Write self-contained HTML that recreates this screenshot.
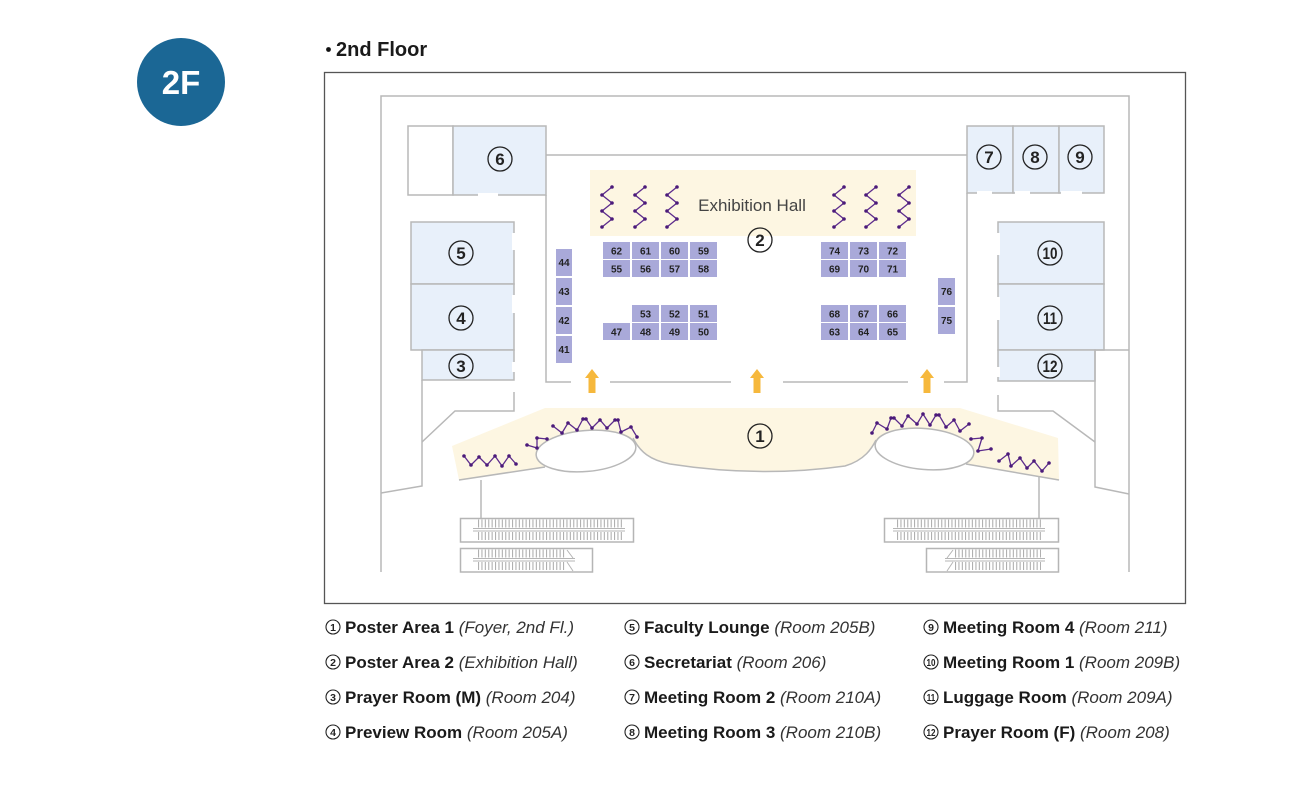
<!DOCTYPE html>
<html><head><meta charset="utf-8"><style>
html,body{margin:0;padding:0;background:#fff;}
svg{display:block;}
text{font-family:"Liberation Sans",sans-serif;}
</style></head><body>
<svg width="1300" height="789" viewBox="0 0 1300 789" xmlns="http://www.w3.org/2000/svg">
<!-- 2F badge -->
<circle cx="181" cy="82" r="44" fill="#1b6795"/>
<text x="181" y="94" text-anchor="middle" font-size="33" fill="#fff" font-weight="bold">2F</text>
<!-- title -->
<circle cx="328.5" cy="49.5" r="2.4" fill="#111"/>
<text x="336" y="56" font-size="20" font-weight="bold" fill="#1a1a1a">2nd Floor</text>
<!-- frame -->
<rect x="324.5" y="72.5" width="861" height="531" fill="none" stroke="#555" stroke-width="1.3"/>

<!-- exhibition hall cream -->
<rect x="590" y="170" width="326" height="66" fill="#fdf6e2"/>
<text x="752" y="211" text-anchor="middle" font-size="17" fill="#444">Exhibition Hall</text>

<!-- rooms -->
<g stroke="#b8b8b8" stroke-width="1.5">
  <rect x="408" y="126" width="45" height="69" fill="#fff"/>
  <rect x="453" y="126" width="93" height="69" fill="#e8f0fa"/>
  <rect x="411" y="222" width="103" height="62" fill="#e8f0fa"/>
  <rect x="411" y="284" width="103" height="66" fill="#e8f0fa"/>
  <rect x="422" y="350" width="92" height="30" fill="#e8f0fa"/>
  <rect x="967" y="126" width="46" height="67" fill="#e8f0fa"/>
  <rect x="1013" y="126" width="46" height="67" fill="#e8f0fa"/>
  <rect x="1059" y="126" width="45" height="67" fill="#e8f0fa"/>
  <rect x="998" y="222" width="106" height="62" fill="#e8f0fa"/>
  <rect x="998" y="284" width="106" height="66" fill="#e8f0fa"/>
  <rect x="998" y="350" width="97" height="31" fill="#e8f0fa"/>
</g>
<!-- door gaps -->
<g fill="#fff">
  <rect x="478" y="193" width="20" height="4"/>
  <rect x="512" y="233" width="4" height="17"/>
  <rect x="512" y="295" width="4" height="18"/>
  <rect x="512" y="362" width="4" height="10"/>
  <rect x="996" y="233" width="4" height="22"/>
  <rect x="996" y="297" width="4" height="23"/>
  <rect x="996" y="367" width="4" height="10"/>
  <rect x="977" y="191" width="15" height="4"/>
  <rect x="1015" y="191" width="15" height="4"/>
  <rect x="1061" y="191" width="21" height="4"/>
</g>

<!-- walls -->
<g stroke="#b8b8b8" stroke-width="1.5" fill="none">
  <path d="M381,572 V96 H1129 V572"/>
  <path d="M381,493 L422,486 V380"/>
  <path d="M422,442 L455,411 H514 V392"/>
  <path d="M1129,494 L1095,487 V350 H1129"/>
  <path d="M998,395 V411 H1053 L1095,442"/>
  <path d="M546,155 H967"/>
  <path d="M546,195 V382 H571"/>
  <path d="M610,382 H731"/>
  <path d="M783,382 H908"/>
  <path d="M944,382 H967 V193"/>
</g>

<!-- booths -->
<g fill="#a9a9d9">
  <rect x="603" y="242" width="27" height="17"/><rect x="632" y="242" width="27" height="17"/><rect x="661" y="242" width="27" height="17"/><rect x="690" y="242" width="27" height="17"/>
  <rect x="603" y="260" width="27" height="17"/><rect x="632" y="260" width="27" height="17"/><rect x="661" y="260" width="27" height="17"/><rect x="690" y="260" width="27" height="17"/>
  <rect x="632" y="305" width="27" height="17"/><rect x="661" y="305" width="27" height="17"/><rect x="690" y="305" width="27" height="17"/>
  <rect x="603" y="323" width="27" height="17"/><rect x="632" y="323" width="27" height="17"/><rect x="661" y="323" width="27" height="17"/><rect x="690" y="323" width="27" height="17"/>
  <rect x="821" y="242" width="27" height="17"/><rect x="850" y="242" width="27" height="17"/><rect x="879" y="242" width="27" height="17"/>
  <rect x="821" y="260" width="27" height="17"/><rect x="850" y="260" width="27" height="17"/><rect x="879" y="260" width="27" height="17"/>
  <rect x="821" y="305" width="27" height="17"/><rect x="850" y="305" width="27" height="17"/><rect x="879" y="305" width="27" height="17"/>
  <rect x="821" y="323" width="27" height="17"/><rect x="850" y="323" width="27" height="17"/><rect x="879" y="323" width="27" height="17"/>
  <rect x="556" y="249" width="16" height="27"/><rect x="556" y="278" width="16" height="27"/><rect x="556" y="307" width="16" height="27"/><rect x="556" y="336" width="16" height="27"/>
  <rect x="938" y="278" width="17" height="27"/><rect x="938" y="307" width="17" height="27"/>
</g>
<g font-size="10" font-weight="bold" fill="#222" text-anchor="middle">
  <text x="616.5" y="254.5">62</text><text x="645.5" y="254.5">61</text><text x="674.5" y="254.5">60</text><text x="703.5" y="254.5">59</text>
  <text x="616.5" y="272.5">55</text><text x="645.5" y="272.5">56</text><text x="674.5" y="272.5">57</text><text x="703.5" y="272.5">58</text>
  <text x="645.5" y="317.5">53</text><text x="674.5" y="317.5">52</text><text x="703.5" y="317.5">51</text>
  <text x="616.5" y="335.5">47</text><text x="645.5" y="335.5">48</text><text x="674.5" y="335.5">49</text><text x="703.5" y="335.5">50</text>
  <text x="834.5" y="254.5">74</text><text x="863.5" y="254.5">73</text><text x="892.5" y="254.5">72</text>
  <text x="834.5" y="272.5">69</text><text x="863.5" y="272.5">70</text><text x="892.5" y="272.5">71</text>
  <text x="834.5" y="317.5">68</text><text x="863.5" y="317.5">67</text><text x="892.5" y="317.5">66</text>
  <text x="834.5" y="335.5">63</text><text x="863.5" y="335.5">64</text><text x="892.5" y="335.5">65</text>
  <text x="564" y="266">44</text><text x="564" y="295">43</text><text x="564" y="324">42</text><text x="564" y="353">41</text>
  <text x="946.5" y="295">76</text><text x="946.5" y="324">75</text>
</g>

<!-- exhibition zigzags -->
<g stroke="#5c2b8c" stroke-width="1.3" fill="none">
  <polyline points="612,187 602,195 612,203 602,211 612,219 602,227"/>
  <polyline points="645,187 635,195 645,203 635,211 645,219 635,227"/>
  <polyline points="677,187 667,195 677,203 667,211 677,219 667,227"/>
  <polyline points="844,187 834,195 844,203 834,211 844,219 834,227"/>
  <polyline points="876,187 866,195 876,203 866,211 876,219 866,227"/>
  <polyline points="909,187 899,195 909,203 899,211 909,219 899,227"/>
</g>
<g fill="#4b1a7a">
  <circle cx="612" cy="187" r="1.8"/><circle cx="602" cy="195" r="1.8"/><circle cx="612" cy="203" r="1.8"/><circle cx="602" cy="211" r="1.8"/><circle cx="612" cy="219" r="1.8"/><circle cx="602" cy="227" r="1.8"/>
  <circle cx="645" cy="187" r="1.8"/><circle cx="635" cy="195" r="1.8"/><circle cx="645" cy="203" r="1.8"/><circle cx="635" cy="211" r="1.8"/><circle cx="645" cy="219" r="1.8"/><circle cx="635" cy="227" r="1.8"/>
  <circle cx="677" cy="187" r="1.8"/><circle cx="667" cy="195" r="1.8"/><circle cx="677" cy="203" r="1.8"/><circle cx="667" cy="211" r="1.8"/><circle cx="677" cy="219" r="1.8"/><circle cx="667" cy="227" r="1.8"/>
  <circle cx="844" cy="187" r="1.8"/><circle cx="834" cy="195" r="1.8"/><circle cx="844" cy="203" r="1.8"/><circle cx="834" cy="211" r="1.8"/><circle cx="844" cy="219" r="1.8"/><circle cx="834" cy="227" r="1.8"/>
  <circle cx="876" cy="187" r="1.8"/><circle cx="866" cy="195" r="1.8"/><circle cx="876" cy="203" r="1.8"/><circle cx="866" cy="211" r="1.8"/><circle cx="876" cy="219" r="1.8"/><circle cx="866" cy="227" r="1.8"/>
  <circle cx="909" cy="187" r="1.8"/><circle cx="899" cy="195" r="1.8"/><circle cx="909" cy="203" r="1.8"/><circle cx="899" cy="211" r="1.8"/><circle cx="909" cy="219" r="1.8"/><circle cx="899" cy="227" r="1.8"/>
</g>

<!-- arrows -->
<g fill="#f6b83c">
  <path d="M592,369 L599,378 L595.5,378 L595.5,393 L588.5,393 L588.5,378 L585,378 Z"/>
  <path d="M757,369 L764,378 L760.5,378 L760.5,393 L753.5,393 L753.5,378 L750,378 Z"/>
  <path d="M927,369 L934,378 L930.5,378 L930.5,393 L923.5,393 L923.5,378 L920,378 Z"/>
</g>

<!-- foyer -->
<path d="M452,446 L545,408 L960,408 L1058,438 L1059,480 L966,464 L924,449 L876,440 C872,448 865,460 845,466 Q760,478 670,464 C650,460 640,452 633,438 L586,451 L545,467 L459,480 Z" fill="#fdf6e2"/>
<g stroke="#b8b8b8" stroke-width="1.5" fill="none">
  <path d="M459,480 L545,467"/>
  <path d="M966,464 L1059,480"/>
  <path d="M633,438 C640,452 650,460 670,464 Q760,478 845,466 C865,460 872,448 876,440"/>
  <ellipse cx="586" cy="451" rx="50" ry="20.5" fill="#fff" transform="rotate(-5 586 451)"/>
  <ellipse cx="924.5" cy="449" rx="49.5" ry="20.5" fill="#fff" transform="rotate(5 924.5 449)"/>
  <path d="M481,480 V518"/>
  <path d="M1039,477 V518"/>
</g>

<!-- foyer zigzags -->
<g stroke="#5c2b8c" stroke-width="1.3" fill="none">
  <polyline points="464,456 471,465 479,457 487,465 495,456 502,466 509,456 516,464"/>
  <polyline points="527,445 537,448 537,438 547,439"/>
  <polyline points="553,426 562,433 568,423 577,430 583,419 586,419 592,428 600,420 607,428 615,420 618,420 621,432 631,427 637,437"/>
  <polyline points="872,433 877,423 887,429 891,418 894,418 902,426 908,416 917,424 923,414 930,425 936,415 939,415 946,427 954,420 960,431 969,424"/>
  <polyline points="971,439 982,438 978,451 991,449"/>
  <polyline points="999,461 1008,454 1011,466 1020,458 1027,468 1034,461 1042,471 1049,463"/>
</g>
<g fill="#4b1a7a">
  <circle cx="464" cy="456" r="1.8"/><circle cx="471" cy="465" r="1.8"/><circle cx="479" cy="457" r="1.8"/><circle cx="487" cy="465" r="1.8"/><circle cx="495" cy="456" r="1.8"/><circle cx="502" cy="466" r="1.8"/><circle cx="509" cy="456" r="1.8"/><circle cx="516" cy="464" r="1.8"/>
  <circle cx="527" cy="445" r="1.8"/><circle cx="537" cy="448" r="1.8"/><circle cx="537" cy="438" r="1.8"/><circle cx="547" cy="439" r="1.8"/>
  <circle cx="553" cy="426" r="1.8"/><circle cx="562" cy="433" r="1.8"/><circle cx="568" cy="423" r="1.8"/><circle cx="577" cy="430" r="1.8"/><circle cx="583" cy="419" r="1.8"/><circle cx="586" cy="419" r="1.8"/><circle cx="592" cy="428" r="1.8"/><circle cx="600" cy="420" r="1.8"/><circle cx="607" cy="428" r="1.8"/><circle cx="615" cy="420" r="1.8"/><circle cx="618" cy="420" r="1.8"/><circle cx="621" cy="432" r="1.8"/><circle cx="631" cy="427" r="1.8"/><circle cx="637" cy="437" r="1.8"/>
  <circle cx="872" cy="433" r="1.8"/><circle cx="877" cy="423" r="1.8"/><circle cx="887" cy="429" r="1.8"/><circle cx="891" cy="418" r="1.8"/><circle cx="894" cy="418" r="1.8"/><circle cx="902" cy="426" r="1.8"/><circle cx="908" cy="416" r="1.8"/><circle cx="917" cy="424" r="1.8"/><circle cx="923" cy="414" r="1.8"/><circle cx="930" cy="425" r="1.8"/><circle cx="936" cy="415" r="1.8"/><circle cx="939" cy="415" r="1.8"/><circle cx="946" cy="427" r="1.8"/><circle cx="954" cy="420" r="1.8"/><circle cx="960" cy="431" r="1.8"/><circle cx="969" cy="424" r="1.8"/>
  <circle cx="971" cy="439" r="1.8"/><circle cx="982" cy="438" r="1.8"/><circle cx="978" cy="451" r="1.8"/><circle cx="991" cy="449" r="1.8"/>
  <circle cx="999" cy="461" r="1.8"/><circle cx="1008" cy="454" r="1.8"/><circle cx="1011" cy="466" r="1.8"/><circle cx="1020" cy="458" r="1.8"/><circle cx="1027" cy="468" r="1.8"/><circle cx="1034" cy="461" r="1.8"/><circle cx="1042" cy="471" r="1.8"/><circle cx="1049" cy="463" r="1.8"/>
</g>

<!-- escalators -->
<g stroke="#b5b5b5" fill="none">
  <rect x="460.5" y="518.5" width="173" height="23.5" stroke-width="1.5"/>
  <rect x="460.5" y="548.5" width="132" height="23.5" stroke-width="1.5"/>
  <rect x="884.5" y="518.5" width="174" height="23.5" stroke-width="1.5"/>
  <rect x="926.5" y="548.5" width="132" height="23.5" stroke-width="1.5"/>
  <g stroke-width="8" stroke-dasharray="1.1 2.3" stroke="#b0b0b0">
    <line x1="478" y1="523.5" x2="623" y2="523.5"/>
    <line x1="478" y1="536" x2="623" y2="536"/>
    <line x1="478" y1="553.5" x2="566" y2="553.5"/>
    <line x1="478" y1="566" x2="566" y2="566"/>
    <line x1="897" y1="523.5" x2="1041" y2="523.5"/>
    <line x1="897" y1="536" x2="1041" y2="536"/>
    <line x1="955" y1="553.5" x2="1041" y2="553.5"/>
    <line x1="955" y1="566" x2="1041" y2="566"/>
  </g>
  <g stroke-width="1">
    <path d="M473,528.5 H625 M473,531 H625"/>
    <path d="M473,558.5 H575 M473,561 H575"/>
    <path d="M893,528.5 H1045 M893,531 H1045"/>
    <path d="M945,558.5 H1045 M945,561 H1045"/>
    <path d="M567,550 L573,558 M567,562 L573,571"/>
    <path d="M953,550 L947,558 M953,562 L947,571"/>
  </g>
</g>

<!-- circled labels on map -->
<g stroke="#222" stroke-width="1.3" fill="none">
  <circle cx="500" cy="159" r="12"/>
  <circle cx="461" cy="253" r="12"/>
  <circle cx="461" cy="318" r="12"/>
  <circle cx="461" cy="366" r="12"/>
  <circle cx="989" cy="157" r="12"/>
  <circle cx="1035" cy="157" r="12"/>
  <circle cx="1080" cy="157" r="12"/>
  <circle cx="1050" cy="253" r="12"/>
  <circle cx="1050" cy="318" r="12"/>
  <circle cx="1050" cy="366" r="12"/>
  <circle cx="760" cy="240" r="12"/>
  <circle cx="760" cy="436" r="12"/>
</g>
<g font-size="17" font-weight="bold" fill="#222" text-anchor="middle">
  <text x="500" y="165">6</text>
  <text x="461" y="259">5</text>
  <text x="461" y="324">4</text>
  <text x="461" y="372">3</text>
  <text x="989" y="163">7</text>
  <text x="1035" y="163">8</text>
  <text x="1080" y="163">9</text>
  <text x="1050" y="259" textLength="15" lengthAdjust="spacingAndGlyphs">10</text>
  <text x="1050" y="324" textLength="14" lengthAdjust="spacingAndGlyphs">11</text>
  <text x="1050" y="372" textLength="15" lengthAdjust="spacingAndGlyphs">12</text>
  <text x="760" y="246">2</text>
  <text x="760" y="442">1</text>
</g>

<!-- legend -->
<g stroke="#222" stroke-width="1.1" fill="none">
  <circle cx="333" cy="627" r="7"/><circle cx="333" cy="662" r="7"/><circle cx="333" cy="697" r="7"/><circle cx="333" cy="732" r="7"/>
  <circle cx="632" cy="627" r="7"/><circle cx="632" cy="662" r="7"/><circle cx="632" cy="697" r="7"/><circle cx="632" cy="732" r="7"/>
  <circle cx="931" cy="627" r="7"/><circle cx="931" cy="662" r="7"/><circle cx="931" cy="697" r="7"/><circle cx="931" cy="732" r="7"/>
</g>
<g font-size="10.5" font-weight="bold" fill="#222" text-anchor="middle">
  <text x="333" y="631">1</text><text x="333" y="666">2</text><text x="333" y="701">3</text><text x="333" y="736">4</text>
  <text x="632" y="631">5</text><text x="632" y="666">6</text><text x="632" y="701">7</text><text x="632" y="736">8</text>
  <text x="931" y="631">9</text>
  <text x="931" y="666" textLength="9" lengthAdjust="spacingAndGlyphs">10</text>
  <text x="931" y="701" textLength="8.5" lengthAdjust="spacingAndGlyphs">11</text>
  <text x="931" y="736" textLength="9" lengthAdjust="spacingAndGlyphs">12</text>
</g>
<g font-size="17" fill="#1a1a1a">
  <text x="345" y="633"><tspan font-weight="bold">Poster Area 1 </tspan><tspan font-style="italic" fill="#333">(Foyer, 2nd Fl.)</tspan></text>
  <text x="345" y="668"><tspan font-weight="bold">Poster Area 2 </tspan><tspan font-style="italic" fill="#333">(Exhibition Hall)</tspan></text>
  <text x="345" y="703"><tspan font-weight="bold">Prayer Room (M) </tspan><tspan font-style="italic" fill="#333">(Room 204)</tspan></text>
  <text x="345" y="738"><tspan font-weight="bold">Preview Room </tspan><tspan font-style="italic" fill="#333">(Room 205A)</tspan></text>
  <text x="644" y="633"><tspan font-weight="bold">Faculty Lounge </tspan><tspan font-style="italic" fill="#333">(Room 205B)</tspan></text>
  <text x="644" y="668"><tspan font-weight="bold">Secretariat </tspan><tspan font-style="italic" fill="#333">(Room 206)</tspan></text>
  <text x="644" y="703"><tspan font-weight="bold">Meeting Room 2 </tspan><tspan font-style="italic" fill="#333">(Room 210A)</tspan></text>
  <text x="644" y="738"><tspan font-weight="bold">Meeting Room 3 </tspan><tspan font-style="italic" fill="#333">(Room 210B)</tspan></text>
  <text x="943" y="633"><tspan font-weight="bold">Meeting Room 4 </tspan><tspan font-style="italic" fill="#333">(Room 211)</tspan></text>
  <text x="943" y="668"><tspan font-weight="bold">Meeting Room 1 </tspan><tspan font-style="italic" fill="#333">(Room 209B)</tspan></text>
  <text x="943" y="703"><tspan font-weight="bold">Luggage Room </tspan><tspan font-style="italic" fill="#333">(Room 209A)</tspan></text>
  <text x="943" y="738"><tspan font-weight="bold">Prayer Room (F) </tspan><tspan font-style="italic" fill="#333">(Room 208)</tspan></text>
</g>
</svg>
</body></html>
